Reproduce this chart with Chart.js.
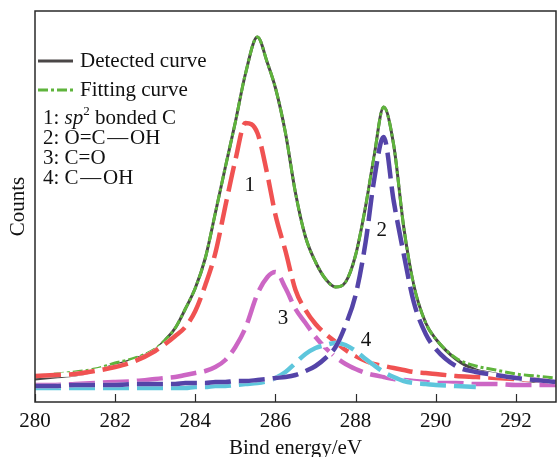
<!DOCTYPE html>
<html>
<head>
<meta charset="utf-8">
<title>C1s spectrum</title>
<script src="https://cdn.jsdelivr.net/npm/chart.js@4.4.1/dist/chart.umd.min.js"></script>
<style>
  html, body { margin: 0; padding: 0; background: #fff; }
  #wrap { width: 558px; height: 457px; }
</style>
</head>
<body>
<div id="wrap"><canvas id="spectrum" width="558" height="457"></canvas></div>
<script>
// Binding energy grid (eV) shared by all curves
const energy = [280, 280.5, 281, 281.5, 282, 282.5, 283, 283.25, 283.5, 283.75,
  284, 284.25, 284.5, 284.75, 285, 285.25, 285.55, 285.8, 286, 286.25,
  286.5, 286.75, 287, 287.25, 287.5, 287.75, 288, 288.25, 288.45, 288.7,
  288.95, 289.2, 289.45, 289.75, 290, 290.5, 291, 291.5, 292, 292.5, 293];

// Intensities (arbitrary counts)
const detected = [23, 25, 27, 31, 37, 43, 52, 62, 74, 93,
  114, 144, 189, 235, 280, 328, 365, 339, 314, 269,
  209, 165, 140, 123, 115, 120, 147, 196, 243, 295,
  257, 175, 117, 79, 63, 43, 32, 28, 23, 20, 17];
const fitted = [26, 28, 30, 33, 39, 44, 53, 62, 74, 93,
  114, 144, 189, 235, 280, 328, 365, 339, 314, 269,
  209, 165, 140, 123, 115, 120, 147, 196, 243, 295,
  257, 175, 117, 79, 63, 44, 36, 32, 28, 26, 24];
const peak1 = [26, 27, 28, 31, 35, 41, 51, 58, 66, 75,
  91, 117, 149, 196, 242, 279, 269, 227, 187, 151,
  112, 92, 78, 68, 60, 52, 46, 41, 38, 36,
  34, 32, 30, 29, 28, 26, 25, 24, 23, 22, 20];
const peak2 = [16, 16, 17, 17, 17, 18, 18, 18, 18, 19,
  19, 19, 20, 20, 21, 21, 22, 23, 24, 25,
  27, 31, 36, 44, 55, 77, 107, 160, 219, 265,
  201, 148, 100, 68, 53, 36, 30, 27, 24, 22, 20];
const peak3 = [17, 17, 18, 19, 20, 21, 23, 24, 25, 27,
  29, 31, 35, 42, 55, 74, 108, 125, 130, 114,
  93, 79, 65, 54, 45, 38, 33, 29, 27, 25,
  23, 22, 21, 20, 19, 19, 18, 18, 17, 17, 17];
const peak4 = [14, 14, 14, 14, 14, 14, 14, 14, 14, 14,
  15, 15, 16, 16, 17, 18, 19, 21, 24, 30,
  39, 48, 54, 57, 59, 57, 51, 43, 37, 30,
  25, 21, 19, 18, 17, 16, 15, null, null, null, null];

const xTicks = [280, 282, 284, 286, 288, 290, 292];

// Number tags placed next to each component
const tagText = ['1', '2', '3', '4'];
const tagEnergy = [285.36, 288.65, 286.19, 288.26];
const tagCounts = [217, 172, 84, 62];

const FONT = '"Liberation Serif", "Times New Roman", serif';
Chart.defaults.font.family = FONT;
Chart.defaults.color = '#111';

function points(values) {
  return values.map((v, i) => ({ x: energy[i], y: v }));
}

function curve(label, values, color, width, dash, order) {
  return {
    label: label,
    data: points(values),
    borderColor: color,
    borderWidth: width,
    borderDash: dash,
    borderCapStyle: 'butt',
    pointRadius: 0,
    fill: false,
    cubicInterpolationMode: 'monotone',
    order: order
  };
}

// each fitted component gets a white line underneath so its dash gaps read as white
const DASH = [26, 8];
const datasets = [
  curve('Detected curve', detected, '#4b4747', 3, [], 20),
  curve('Fitting curve', fitted, '#5fb43c', 3, [10, 3, 3, 3], 19),
  curve('', peak3, '#ffffff', 4.5, [], 18),
  curve('3', peak3, '#cc66c4', 4.5, DASH, 17),
  curve('', peak1, '#ffffff', 4.5, [], 16),
  curve('1', peak1, '#f05252', 4.5, DASH, 15),
  curve('', peak4, '#ffffff', 4.5, [], 14),
  curve('4', peak4, '#5ec6dc', 4.5, DASH, 13),
  curve('', peak2, '#ffffff', 4.5, [], 12),
  curve('2', peak2, '#5444a8', 4.5, DASH, 11)
];

// legend rows for the components; each row is a list of [text, style] runs
const componentRows = [
  [['1: ', ''], ['sp', 'italic'], ['2', 'sup'], [' bonded C', '']],
  [['2: O=C\u200A\u2014\u200AOH', '']],
  [['3: C=O', '']],
  [['4: C\u200A\u2014\u200AOH', '']]
];

const decorations = {
  id: 'decorations',
  afterDatasetsDraw(chart) {
    const { ctx, chartArea: a, scales: { x, y } } = chart;
    ctx.save();

    // frame and inward tick marks
    ctx.strokeStyle = '#2a2a2a';
    ctx.lineWidth = 1.5;
    ctx.setLineDash([]);
    ctx.strokeRect(a.left, a.top, a.right - a.left, a.bottom - a.top);
    ctx.lineWidth = 1.2;
    xTicks.forEach(v => {
      const px = Math.round(x.getPixelForValue(v)) + 0.5;
      ctx.beginPath();
      ctx.moveTo(px, a.bottom);
      ctx.lineTo(px, a.bottom - 8);
      ctx.stroke();
    });

    ctx.fillStyle = '#111';
    ctx.textBaseline = 'middle';

    // component numbers
    ctx.font = '21px ' + FONT;
    ctx.textAlign = 'center';
    tagText.forEach((t, i) => {
      ctx.fillText(t, x.getPixelForValue(tagEnergy[i]), y.getPixelForValue(tagCounts[i]));
    });

    // legend: line samples for the measured and fitted curves
    ctx.textAlign = 'left';
    const ds = chart.data.datasets;
    const lx = a.left + 3;
    [[ds[0], a.top + 50], [ds[1], a.top + 79]].forEach(([d, ly]) => {
      ctx.beginPath();
      ctx.strokeStyle = d.borderColor;
      ctx.lineWidth = d.borderWidth;
      ctx.setLineDash(d.borderDash);
      ctx.moveTo(lx, ly);
      ctx.lineTo(lx + 35, ly);
      ctx.stroke();
      ctx.setLineDash([]);
      ctx.fillText(d.label, lx + 42, ly);
    });

    // legend: component list
    componentRows.forEach((runs, r) => {
      let cx = a.left + 8;
      const cy = a.top + 107 + r * 20;
      runs.forEach(([text, style]) => {
        if (style === 'italic') {
          ctx.font = 'italic 21px ' + FONT;
          ctx.fillText(text, cx, cy);
        } else if (style === 'sup') {
          ctx.font = '13px ' + FONT;
          ctx.fillText(text, cx, cy - 6);
        } else {
          ctx.font = '21px ' + FONT;
          ctx.fillText(text, cx, cy);
        }
        cx += ctx.measureText(text).width;
      });
    });

    ctx.restore();
  }
};

new Chart(document.getElementById('spectrum'), {
  type: 'line',
  data: { datasets: datasets },
  options: {
    responsive: false,
    animation: false,
    devicePixelRatio: 1,
    layout: { padding: { top: 11, right: 2, left: 0, bottom: 0 } },
    plugins: {
      legend: { display: false },
      tooltip: { enabled: false }
    },
    scales: {
      x: {
        type: 'linear',
        min: 280,
        max: 293,
        afterBuildTicks: s => { s.ticks = xTicks.map(v => ({ value: v })); },
        afterFit: s => { s.height = 55; },
        ticks: { font: { size: 21 }, color: '#111', padding: 7, maxRotation: 0, autoSkip: false },
        grid: { display: false, drawTicks: false },
        border: { display: false },
        title: { display: true, text: 'Bind energy/eV', font: { size: 21 }, color: '#111', padding: { top: 0, bottom: -4 } }
      },
      y: {
        min: 0,
        max: 391,
        afterFit: s => { s.width = 35; },
        ticks: { display: false },
        grid: { display: false, drawTicks: false },
        border: { display: false },
        title: { display: true, text: 'Counts', font: { size: 21 }, color: '#111', padding: { top: 6, bottom: 0 } }
      }
    }
  },
  plugins: [decorations]
});
</script>
</body>
</html>
